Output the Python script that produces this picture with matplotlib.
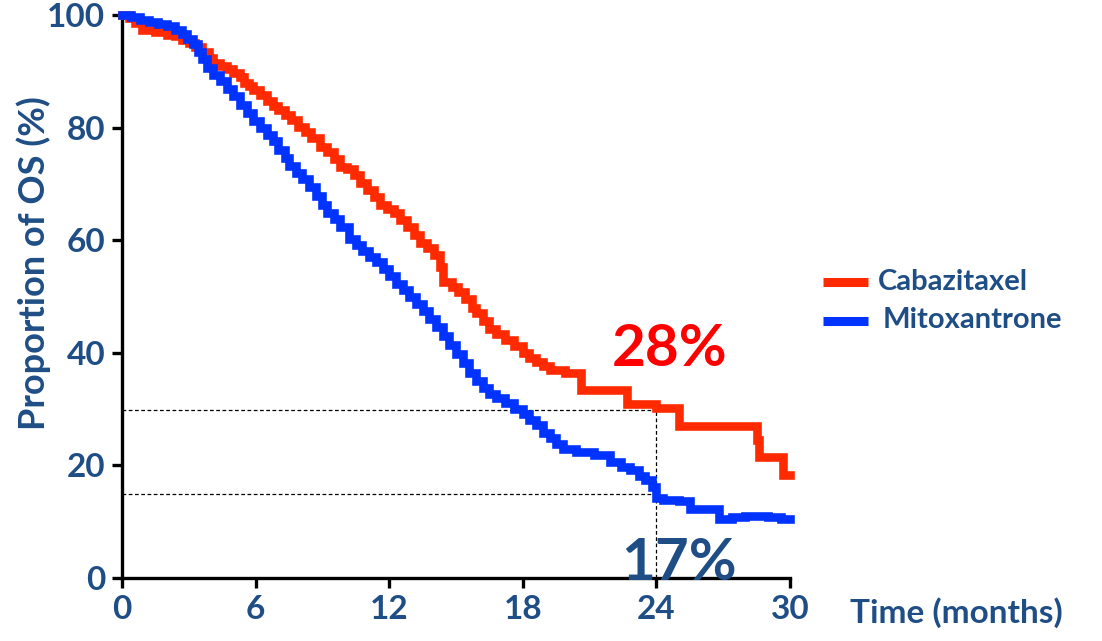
import matplotlib
matplotlib.use("Agg")
import matplotlib.pyplot as plt
from matplotlib.lines import Line2D

# Kaplan-Meier curves (months, % surviving)
cab_t = [0, 0.3, 0.6, 0.9, 1.5, 2.0, 2.4, 2.7, 3.0, 3.3, 3.6, 3.9, 4.1, 4.4, 4.7, 5.0,
         5.3, 5.5, 5.7, 5.9, 6.2, 6.5, 6.8, 7.0, 7.3, 7.6, 7.9, 8.2, 8.5, 8.9, 9.2, 9.5,
         9.8, 10.1, 10.4, 10.7, 11.0, 11.3, 11.6, 11.9, 12.2, 12.5, 12.8, 13.1, 13.4, 13.7,
         14.0, 14.3, 14.4, 14.8, 15.1, 15.4, 15.7, 15.9, 16.2, 16.5, 16.8, 17.2, 17.6, 18.0,
         18.3, 18.6, 18.9, 19.2, 19.9, 20.6, 22.7, 24.0, 25.0, 28.5, 28.6, 29.7, 30.0]
cab_s = [100, 99.5, 98.5, 97.3, 97.0, 96.5, 96.2, 95.6, 95.0, 94.3, 93.4, 92.4, 91.5, 91.0, 90.4, 89.7,
         89.0, 88.0, 87.3, 86.7, 85.8, 84.8, 83.8, 83.1, 82.3, 81.3, 80.1, 79.3, 78.2, 76.6, 75.6, 74.5,
         73.0, 72.6, 71.5, 70.2, 68.9, 67.6, 66.2, 65.5, 64.8, 63.6, 62.4, 61.0, 59.5, 58.6,
         57.3, 55.2, 52.6, 51.6, 50.8, 49.6, 48.0, 47.0, 45.6, 44.2, 43.4, 42.2, 41.2, 40.0,
         39.0, 38.4, 37.6, 37.0, 36.4, 33.4, 30.9, 30.2, 27.0, 24.5, 21.5, 18.3, 18.3]

mit_t = [0, 0.4, 0.8, 1.2, 1.6, 2.0, 2.4, 2.7, 2.9, 3.2, 3.4, 3.6, 3.8, 4.1, 4.4, 4.7,
         5.0, 5.3, 5.6, 5.9, 6.2, 6.5, 6.8, 7.0, 7.3, 7.5, 7.8, 8.1, 8.4, 8.7, 9.0, 9.2,
         9.5, 9.8, 10.2, 10.5, 10.8, 11.1, 11.4, 11.7, 12.0, 12.3, 12.6, 12.9, 13.2, 13.5,
         13.8, 14.1, 14.4, 14.7, 15.0, 15.3, 15.6, 15.9, 16.2, 16.5, 16.8, 17.2, 17.6, 18.0,
         18.3, 18.6, 18.9, 19.2, 19.5, 19.8, 20.4, 21.2, 21.9, 22.4, 22.8, 23.2, 23.5, 23.8,
         24.0, 24.3, 25.0, 25.5, 26.8, 27.4, 28.0, 29.0, 29.6, 30.0]
mit_s = [100, 99.6, 99.2, 98.8, 98.4, 98.0, 97.4, 96.6, 95.8, 94.8, 93.5, 92.2, 90.6, 89.3, 88.2, 86.8,
         85.6, 84.0, 82.6, 81.2, 80.0, 78.6, 77.6, 76.0, 74.6, 73.2, 72.0, 70.8, 69.4, 67.8, 66.2, 64.8,
         63.8, 62.4, 60.2, 59.2, 58.0, 57.0, 56.2, 54.8, 53.6, 52.2, 51.2, 49.9, 48.7, 47.4,
         46.0, 44.5, 43.0, 41.4, 39.8, 38.2, 36.4, 35.0, 33.8, 32.6, 32.0, 31.0, 30.0, 29.1,
         28.0, 27.2, 25.8, 24.8, 23.8, 23.0, 22.4, 21.9, 20.6, 19.8, 19.2, 18.2, 17.4, 16.2,
         14.2, 13.8, 13.6, 12.3, 10.5, 10.9, 11.0, 10.8, 10.5, 10.5]

series = ["Cabazitaxel", "Mitoxantrone"]
colors = ["#FF2A00", "#0033FF"]
x_ticks = [0, 6, 12, 18, 24, 30]
y_ticks = [0, 20, 40, 60, 80, 100]
mark_t = 24
mark_cab = 29.8
mark_mit = 14.9
labels_pct = ["28%", "17%"]

TXT = "#1F4E86"
FONT = "Lato"

fig = plt.figure(figsize=(11.02, 6.41), dpi=100)
ax = fig.add_axes([0.1107, 0.0983, 0.6062, 0.8783])

for t, s, c in [(cab_t, cab_s, colors[0]), (mit_t, mit_s, colors[1])]:
    ax.step(t, s, where="post", color=c, lw=6.2, solid_joinstyle="miter", clip_on=False, zorder=3)

# reference lines at 24 months
dash = (0, (3, 2))
ax.plot([0, mark_t], [mark_cab, mark_cab], ls=dash, color="black", lw=0.9, zorder=2)
ax.plot([0, mark_t], [mark_mit, mark_mit], ls=dash, color="black", lw=0.9, zorder=2)
ax.plot([mark_t, mark_t], [0, mark_cab], ls=dash, color="black", lw=0.9, zorder=2)

ax.text(22.0, 40.5, labels_pct[0], color="#FF0000", fontsize=42, fontweight="bold",
        family=FONT, ha="left", va="center")
ax.text(22.4, 2.5, labels_pct[1], color=TXT, fontsize=42, fontweight="bold",
        family=FONT, ha="left", va="center", zorder=4)

ax.set_xlim(0, 30)
ax.set_ylim(0, 100)
ax.set_xticks(x_ticks)
ax.set_yticks(y_ticks)
for sp in ["top", "right"]:
    ax.spines[sp].set_visible(False)
for sp in ["left", "bottom"]:
    ax.spines[sp].set_linewidth(2.4)
ax.tick_params(axis="both", length=7, width=2.4, direction="out", pad=5,
               labelsize=24, labelcolor=TXT)
for lab in ax.get_xticklabels() + ax.get_yticklabels():
    lab.set_fontweight("bold")
    lab.set_family(FONT)

fig.text(0.031, 0.59, "Proportion of OS (%)", rotation=90, ha="center", va="center",
         fontsize=26, fontweight="bold", color=TXT, family=FONT)
fig.text(0.771, 0.045, "Time (months)", ha="left", va="center",
         fontsize=24, fontweight="bold", color=TXT, family=FONT)

# legend drawn by hand so the keys sit where the reference has them
leg_y = [0.560, 0.500]
leg_tx = [0.7967, 0.8013]
for c, name, y, tx in zip(colors, series, leg_y, leg_tx):
    fig.add_artist(Line2D([0.7468, 0.7877], [y, y], color=c, lw=6.5,
                          solid_capstyle="butt", transform=fig.transFigure))
    fig.text(tx, y, name, ha="left", va="center", fontsize=21, fontweight="bold",
             color=TXT, family=FONT)

fig.savefig("out.png", dpi=100)
